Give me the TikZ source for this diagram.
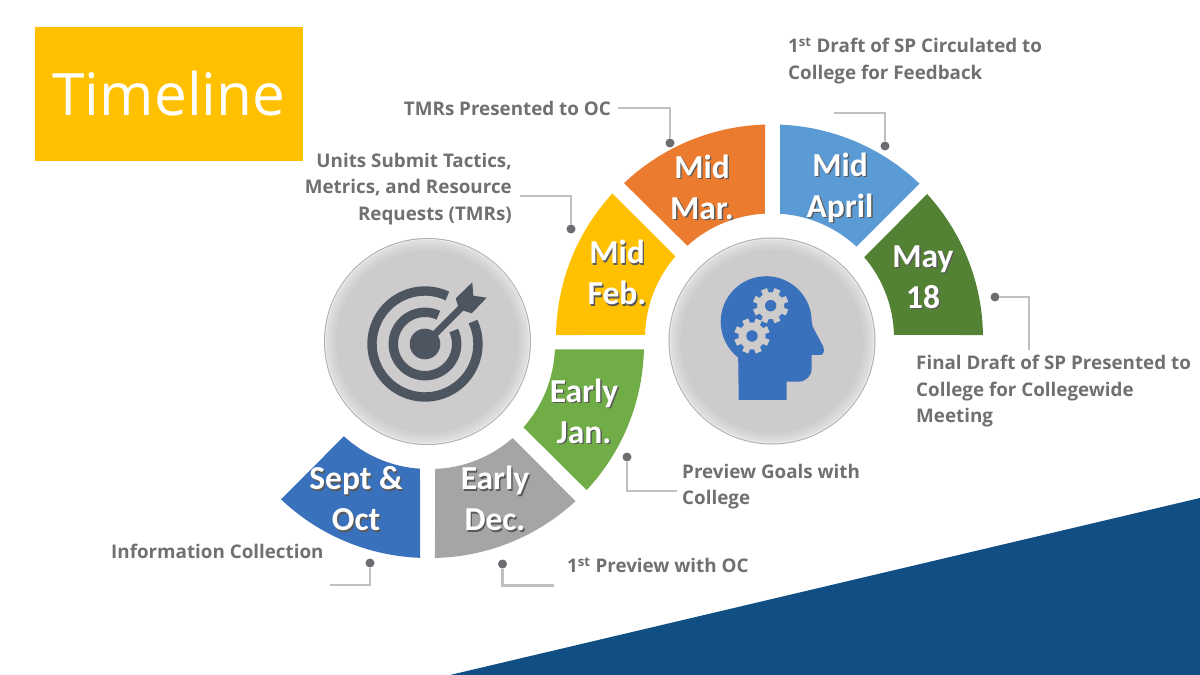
\documentclass[tikz,border=0pt]{standalone}
\usepackage{fontspec}
\setmainfont{Open Sans}
\newfontfamily\calfont{Carlito}
\usetikzlibrary{calc}

\definecolor{navyband}{HTML}{104E84}
\definecolor{titlegold}{HTML}{FFC000}
\definecolor{notegrey}{HTML}{707070}
\definecolor{leadgrey}{HTML}{BFBFBF}
\definecolor{dotgrey}{HTML}{6B6D70}
\definecolor{segblue}{HTML}{3A71BC}
\definecolor{seggrey}{HTML}{A5A5A5}
\definecolor{seggreen}{HTML}{70AD47}
\definecolor{segyellow}{HTML}{FFC000}
\definecolor{segorange}{HTML}{EB7B2E}
\definecolor{segsky}{HTML}{5B9BD5}
\definecolor{segforest}{HTML}{548235}
\definecolor{discgrey}{HTML}{CDCBCC}
\definecolor{icondark}{HTML}{4D5560}
\definecolor{iconblue}{HTML}{3A71BC}

\newcommand{\shtxt}[1]{\rlap{\hspace{1.4pt}\raisebox{-1.4pt}{\textcolor{black!65}{#1}}}#1}

\tikzset{
  note/.style={font=\fontsize{18.8}{26.5}\selectfont\bfseries, text=notegrey, inner sep=0pt},
  month/.style={font=\calfont\fontsize{33.5}{41}\selectfont\bfseries, text=white, align=center, inner sep=0pt},
  lead/.style={draw=leadgrey, line width=2.4pt},
  leaddot/.style={circle, fill=dotgrey, minimum size=9pt, inner sep=0pt},
  disc/.style={circle, minimum size=182pt, inner sep=0pt, fill=discgrey},
  ringicon/.style={draw=icondark, line width=9.4pt},
}

\begin{document}
\begin{tikzpicture}[x=1pt, y=1pt]
  \useasboundingbox (0,0) rectangle (1200,675);

  % band and title
  \fill[navyband] (450,0) -- (1200,177) -- (1200,0) -- cycle;
  \node (title) [fill=titlegold, minimum width=268pt, minimum height=134pt, inner sep=0pt,
    font=\fontsize{58.5}{60}\selectfont, text=white] at (169,581) {\raisebox{2pt}{Timeline}};

  % ring segments
  \foreach \segcol/\cx/\cy/\oa/\ob/\ia/\ib in {
    segyellow/769.5/337/179.2/137.4/139/178.6,
    segorange/771/337/133.5/91.6/92.8/132.2,
    segsky/772/337/87.8/46.3/47.2/86.3,
    segforest/769.5/337/42.4/0.8/1.4/40.5,
    seggreen/430.5/330.5/-1.3/-43/-41.7/-2.2,
    seggrey/430.5/330.5/-47.2/-88.8/-87.9/-48.7,
    segblue/428/330.5/-92.1/-133.5/-132.5/-93.7}
  {
    \fill[\segcol] ($(\cx,\cy)+(\oa:213.5)$) arc[start angle=\oa, end angle=\ob, radius=213.5]
      -- ($(\cx,\cy)+(\ia:124.5)$) arc[start angle=\ia, end angle=\ib, radius=124.5] -- cycle;
  }

  % month labels
  \node (sept) [month] at (356,175.5) {\shtxt{Sept \&}\\\shtxt{Oct}};
  \node (dec) [month] at (495,175.5) {\shtxt{Early}\\\shtxt{Dec.}};
  \node (jan) [month] at (584,263) {\shtxt{Early}\\\shtxt{Jan.}};
  \node (feb) [month] at (617,401.5) {\shtxt{Mid}\\\shtxt{Feb.}};
  \node (mar) [month] at (702,487) {\shtxt{Mid}\\\shtxt{Mar.}};
  \node (apr) [month] at (840,486.5) {\shtxt{Mid}\\\shtxt{April}};
  \node (may) [month] at (923,397.5) {\shtxt{May}\\\shtxt{18}};

  % discs, bevel first
  \foreach \discx/\discy in {427.5/333.5, 772/334}
  {
    \fill[black!32] (\discx,\discy) circle (103.5);
    \fill[white!92!black] (\discx,\discy) circle (102.5);
    \foreach \rr/\mx in {101.5/60, 100/68, 98/76, 96/84, 94/90, 92/95}
      \fill[discgrey!\mx!white] (\discx,\discy) circle (\rr);
  }
  \node (goal) [disc] at (427.5,333.5) {};
  \node (mind) [disc] at (772,334) {};

  % target icon
  \draw[ringicon] (425,331) ++(65:53) arc[start angle=65, end angle=385, radius=53];
  \draw[ringicon] (425,331) ++(65:31.7) arc[start angle=65, end angle=385, radius=31.7];
  \fill[icondark] (425,331) circle (15.3);
  \draw[icondark, line width=7pt] (425,331) -- (464,370);
  \fill[icondark] (455.7,376.7) -- (472.3,392.7) -- (473.3,379.3) -- (486.7,377.3) -- (471.7,361.7) -- (459,365.7) -- cycle;

  % head icon
  \fill[iconblue] (738.7,275) -- (786.7,275) -- (786.7,293.3) -- (798.3,293.3)
    .. controls (806,293.3) and (811.7,299) .. (811.7,306.7) -- (811.7,320)
    -- (820,320) .. controls (823,320) and (825,323) .. (823.3,328.3)
    -- (812.7,348.3) -- (811.7,353.3)
    arc[start angle=0, end angle=232, radius=45.5]
    -- cycle;
  \foreach \gx/\gy in {770.7/369.3, 752/339}
  {
    \fill[discgrey] (\gx,\gy) circle (13.5);
    \foreach \ang in {0,45,...,315}
      \fill[discgrey, rotate around={\ang+22.5:(\gx,\gy)}] (\gx-3.2,\gy) rectangle (\gx+3.2,\gy+17.7);
    \fill[iconblue] (\gx,\gy) circle (5.7);
  }

  % leader dots
  \node (dotmar) [leaddot] at (670,532) {};
  \node (dotapr) [leaddot] at (885,529) {};
  \node (dotfeb) [leaddot] at (571,446) {};
  \node (dotmay) [leaddot] at (995,378) {};
  \node (dotjan) [leaddot] at (627,218) {};
  \node (dotdec) [leaddot] at (502.5,111) {};
  \node (dotsept) [leaddot] at (370,112) {};

  % free ends of the leaders
  \coordinate (endmar) at (618,567);
  \coordinate (endapr) at (834,562);
  \coordinate (endfeb) at (520,479);
  \coordinate (endmay) at (1029,325);
  \coordinate (endjan) at (677,184);
  \coordinate (enddec) at (554,89.5);
  \coordinate (endsept) at (330,90);

  \draw[lead] (dotmar) |- (endmar);
  \draw[lead] (dotapr) |- (endapr);
  \draw[lead] (dotfeb) |- (endfeb);
  \draw[lead] (dotmay) -| (endmay);
  \draw[lead] (dotjan) |- (endjan);
  \draw[lead] (dotdec) |- (enddec);
  \draw[lead] (dotsept) |- (endsept);

  % notes
  \node (notemar) [note, anchor=east] at (611,567) {TMRs Presented to OC};
  \node (noteapr) [note, anchor=west, align=left] at (788,614) {1\textsuperscript{st} Draft of SP Circulated to\\College for Feedback};
  \node (notefeb) [note, anchor=east, align=right] at (512,486) {Units Submit Tactics,\\Metrics, and Resource\\Requests (TMRs)};
  \node (notemay) [note, anchor=west, align=left] at (916,283.5) {Final Draft of SP Presented to\\College for Collegewide\\Meeting};
  \node (notejan) [note, anchor=west, align=left] at (682,188.5) {Preview Goals with\\College};
  \node (notedec) [note, anchor=west] at (567,110) {1\textsuperscript{st} Preview with OC};
  \node (notesept) [note, anchor=west] at (111,124) {Information Collection};
\end{tikzpicture}
\end{document}
